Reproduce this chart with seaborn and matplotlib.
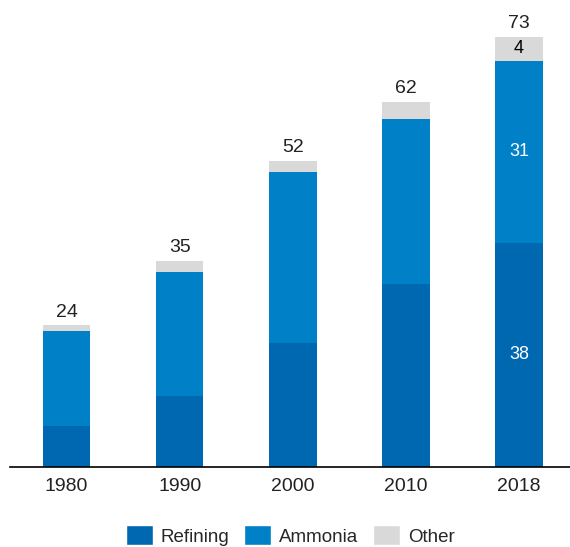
import matplotlib
matplotlib.use("Agg")
import matplotlib.pyplot as plt
import seaborn as sns
import pandas as pd
from matplotlib.patches import Patch

years = ["1980", "1990", "2000", "2010", "2018"]
refining = [7, 12, 21, 31, 38]
ammonia = [16, 21, 29, 28, 31]
other = [1, 2, 2, 3, 4]
totals = [24, 35, 52, 62, 73]

colors = {"Refining": "#0067b1", "Ammonia": "#0080c6", "Other": "#d9d9d9"}

df = pd.DataFrame({"year": years, "Refining": refining,
                   "Ammonia": ammonia, "Other": other})
df["ref_amm"] = df["Refining"] + df["Ammonia"]
df["total"] = df["ref_amm"] + df["Other"]

sns.set_theme(style="white")
plt.rcParams["font.family"] = ["Liberation Sans", "DejaVu Sans"]

fig = plt.figure(figsize=(5.7, 5.47), dpi=100)
ax = fig.add_axes([10 / 570, 80.3 / 547, 560 / 570, 466.7 / 547])

# stacked look: draw cumulative bars back to front
for col, key in [("total", "Other"), ("ref_amm", "Ammonia"), ("Refining", "Refining")]:
    sns.barplot(data=df, x="year", y=col, color=colors[key],
                width=0.42, saturation=1, linewidth=0, ax=ax)

for i, t in enumerate(totals):
    ax.annotate(str(t), (i, df["total"][i]), xytext=(0, 3.5),
                textcoords="offset points", ha="center", va="bottom",
                fontsize=14, color="#222222")

# segment labels for 2018
i = len(years) - 1
ax.text(i, refining[i] / 2, str(refining[i]), ha="center", va="center",
        fontsize=13, color="white")
ax.text(i, refining[i] + ammonia[i] / 2, str(ammonia[i]), ha="center",
        va="center", fontsize=13, color="white")
ax.text(i, refining[i] + ammonia[i] + other[i] / 2, str(other[i]),
        ha="center", va="center", fontsize=13, color="black")

ax.set_xlim(-0.5, 4.45)
ax.set_ylim(0, 79.3)
ax.set_xlabel("")
ax.set_ylabel("")
ax.set_yticks([])
ax.tick_params(axis="x", length=0, pad=8, labelsize=14, colors="#222222")
for s in ["top", "left", "right"]:
    ax.spines[s].set_visible(False)
ax.spines["bottom"].set_color("black")
ax.spines["bottom"].set_linewidth(1.2)

handles = [Patch(facecolor=colors[k], label=k) for k in ["Refining", "Ammonia", "Other"]]
ax.legend(handles=handles, loc="center", bbox_to_anchor=(0.5, -0.147),
          ncol=3, frameon=False, fontsize=13.5, handlelength=1.45,
          handleheight=1.3, columnspacing=0.8, handletextpad=0.4)

fig.savefig("out.png", dpi=100)
